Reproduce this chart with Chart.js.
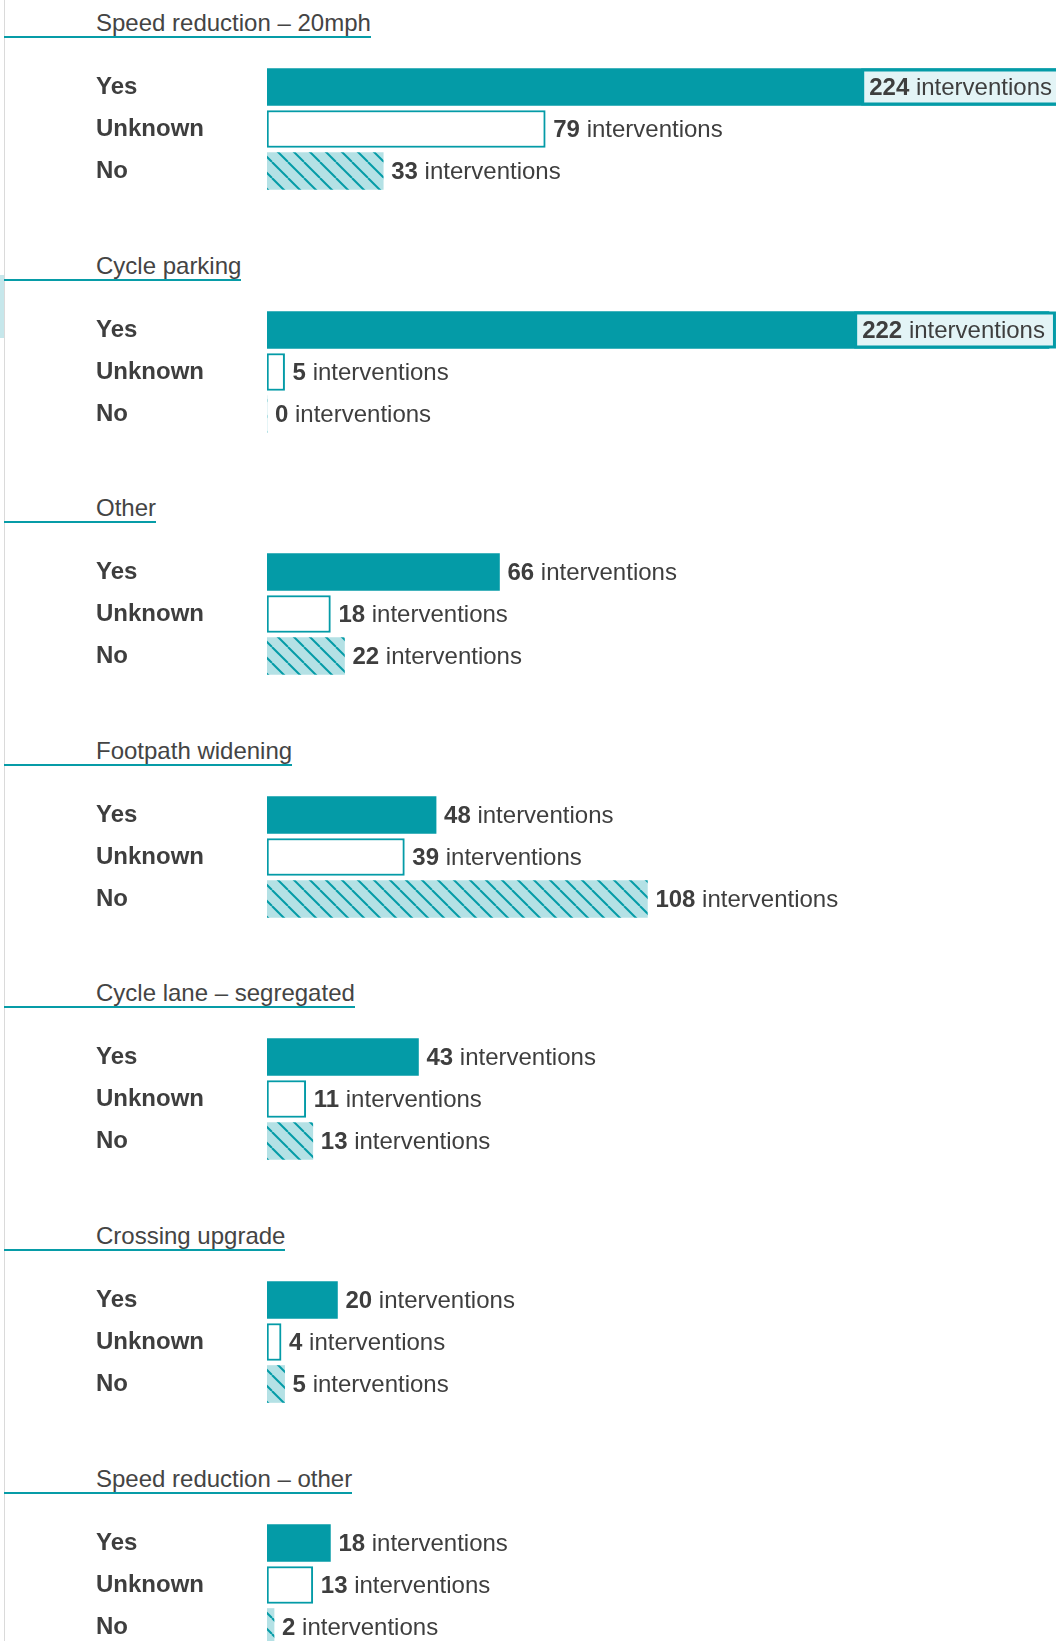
<!DOCTYPE html>
<html>
<head>
<meta charset="utf-8">
<title>Interventions by type</title>
<script src="https://cdn.jsdelivr.net/npm/chart.js@4/dist/chart.umd.min.js"></script>
<style>
    html, body {
        margin: 0;
        padding: 0;
        width: 1056px;
        height: 1641px;
        overflow: hidden;
        background: #fff;
        font-family: "Liberation Sans", Arial, Helvetica, sans-serif;
    }
    #page {
        position: relative;
        width: 1056px;
        height: 1641px;
    }
    /* thin rule down the left edge of the panel */
    #page::before {
        content: '';
        position: absolute;
        left: 4px;
        top: 0;
        width: 1px;
        height: 1641px;
        background: #dadada;
    }
    .marker {
        position: absolute;
        left: 0;
        top: 275px;
        width: 4px;
        height: 63px;
        background: #c6e7eb;
    }
    .section {
        position: relative;
        height: 242.6px;
    }
    .section h3 {
        position: absolute;
        left: 4px;
        top: 8px;
        margin: 0;
        padding: 2px 0 0 92px;
        font-size: 24px;
        line-height: 26px;
        font-weight: normal;
        color: #444;
        border-bottom: 2px solid #079ca7;
        white-space: nowrap;
    }
    .section canvas {
        position: absolute;
        left: 0;
        top: 66px;
    }
</style>
</head>
<body>
<div id="page">
    <div class="marker"></div>
    <div id="sections"></div>
</div>

<script>
const categories = [
    'Speed reduction – 20mph',
    'Cycle parking',
    'Other',
    'Footpath widening',
    'Cycle lane – segregated',
    'Crossing upgrade',
    'Speed reduction – other'
];
const answers = ['Yes', 'Unknown', 'No'];
const yesCounts = [224, 222, 66, 48, 43, 20, 18];
const unknownCounts = [79, 5, 18, 39, 11, 4, 13];
const noCounts = [33, 0, 22, 108, 13, 5, 2];
const axisMax = 224;

const TEAL = '#049ba7';
const HATCH_BG = '#b4e1e5';
const LABEL_BG = '#e3f4f6';
const TEXT = '#3e3e3e';
const FONT = '"Liberation Sans", Arial, Helvetica, sans-serif';

// Diagonal stripes used for the "No" bars
function makeHatch() {
    const tile = document.createElement('canvas');
    tile.width = 16;
    tile.height = 16;
    const c = tile.getContext('2d');
    c.fillStyle = HATCH_BG;
    c.fillRect(0, 0, 16, 16);
    c.strokeStyle = TEAL;
    c.lineWidth = 2;
    for (let k = -1; k <= 1; k++) {
        c.beginPath();
        c.moveTo(k * 16, 0);
        c.lineTo(k * 16 + 16, 16);
        c.stroke();
    }
    return document.createElement('canvas').getContext('2d').createPattern(tile, 'repeat');
}

// "224 interventions" style labels at the end of each bar
const valueLabels = {
    id: 'valueLabels',
    afterDatasetsDraw(chart) {
        const ctx = chart.ctx;
        const area = chart.chartArea;
        const meta = chart.getDatasetMeta(0);
        const values = chart.data.datasets[0].data;

        meta.data.forEach((bar, i) => {
            const num = String(values[i]);
            const rest = ' interventions';

            ctx.save();
            ctx.textBaseline = 'middle';
            ctx.font = 'bold 24px ' + FONT;
            const numW = ctx.measureText(num).width;
            ctx.font = '24px ' + FONT;
            const restW = ctx.measureText(rest).width;
            const total = numW + restW;

            const end = bar.x;
            let x = end + 8;

            if (x + total > area.right) {
                // no room outside: put it on a pale box over the bar end
                const textRight = end - 4;
                x = textRight - total;
                const top = bar.y - bar.height / 2 + 3;
                const h = bar.height - 6;
                ctx.fillStyle = TEAL;
                ctx.fillRect(x - 8, top - 3, total + 19, h + 6);
                ctx.fillStyle = LABEL_BG;
                ctx.fillRect(x - 5, top, total + 13, h);
            }

            ctx.fillStyle = TEXT;
            ctx.textAlign = 'left';
            ctx.font = 'bold 24px ' + FONT;
            ctx.fillText(num, x, bar.y + 1);
            ctx.font = '24px ' + FONT;
            ctx.fillText(rest, x + numW, bar.y + 1);
            ctx.restore();
        });
    }
};

const hatch = makeHatch();
const holder = document.getElementById('sections');
const charts = [];

categories.forEach((name, i) => {
    const section = document.createElement('div');
    section.className = 'section';

    const title = document.createElement('h3');
    title.textContent = name;
    section.appendChild(title);

    const canvas = document.createElement('canvas');
    canvas.width = 1056;
    canvas.height = 126;
    canvas.style.width = '1056px';
    canvas.style.height = '126px';
    section.appendChild(canvas);
    holder.appendChild(section);

    charts.push(new Chart(canvas, {
        type: 'bar',
        data: {
            labels: answers,
            datasets: [{
                data: [yesCounts[i], unknownCounts[i], noCounts[i]],
                backgroundColor: [TEAL, '#ffffff', hatch],
                borderColor: TEAL,
                borderWidth: [0, 2, 0],
                borderSkipped: false,
                barThickness: 37
            }]
        },
        options: {
            indexAxis: 'y',
            responsive: false,
            animation: false,
            devicePixelRatio: 1,
            layout: {
                padding: { left: 96, right: 0, top: 0, bottom: 0 }
            },
            plugins: {
                legend: { display: false },
                tooltip: { enabled: false }
            },
            scales: {
                x: {
                    display: false,
                    min: 0,
                    max: axisMax
                },
                y: {
                    grid: { display: false },
                    border: { display: false },
                    ticks: {
                        crossAlign: 'far',
                        padding: 0,
                        color: TEXT,
                        font: { family: FONT, size: 24, weight: 'bold', lineHeight: '1px' }
                    },
                    afterFit: scale => {
                        // fixed label column, and no extra room above/below the rows
                        scale.width = 171;
                        scale.paddingTop = 0;
                        scale.paddingBottom = 0;
                    }
                }
            }
        },
        plugins: [valueLabels]
    }));
});
</script>
</body>
</html>
